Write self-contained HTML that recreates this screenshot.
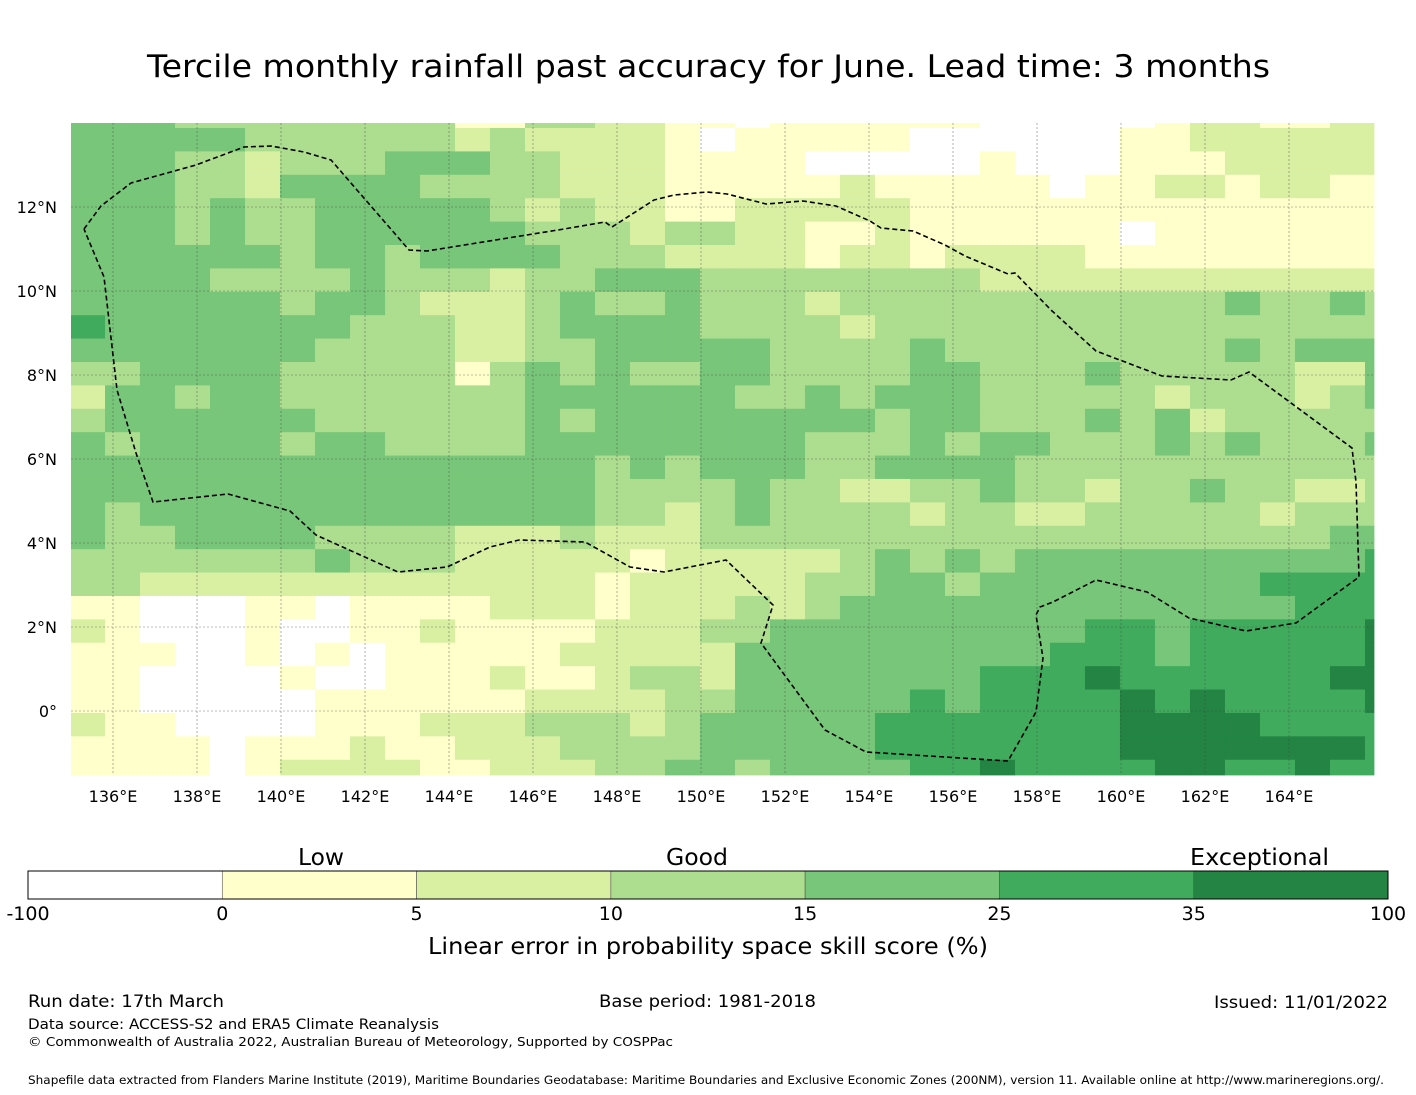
<!DOCTYPE html>
<html><head><meta charset="utf-8">
<style>
body{margin:0;background:#fff;}
svg{display:block;font-family:"DejaVu Sans","Liberation Sans",sans-serif;}
</style></head>
<body>
<svg id="chart" width="1416" height="1095" viewBox="0 0 1416 1095" xmlns="http://www.w3.org/2000/svg">
<rect width="1416" height="1095" fill="#fff"/>
<text x="147" y="77" font-size="31" textLength="1123" lengthAdjust="spacingAndGlyphs" fill="#000">Tercile monthly rainfall past accuracy for June. Lead time: 3 months</text>
<g id="cells"></g>
<g id="grid"></g>
<path id="eez" fill="none" stroke="#000" stroke-width="1.6" stroke-dasharray="5,3"/>
<g id="axes"></g>
<g id="cbar"></g>
<text x="428" y="954" font-size="23" textLength="560" lengthAdjust="spacingAndGlyphs">Linear error in probability space skill score (%)</text>
<text x="298" y="865" font-size="23" textLength="46" lengthAdjust="spacingAndGlyphs">Low</text>
<text x="666" y="865" font-size="23" textLength="62" lengthAdjust="spacingAndGlyphs">Good</text>
<text x="1190" y="865" font-size="23" textLength="139" lengthAdjust="spacingAndGlyphs">Exceptional</text>
<text x="28" y="1007" font-size="17" textLength="196" lengthAdjust="spacingAndGlyphs">Run date: 17th March</text>
<text x="599" y="1007" font-size="17" textLength="217" lengthAdjust="spacingAndGlyphs">Base period: 1981-2018</text>
<text x="1214" y="1008" font-size="17" textLength="174" lengthAdjust="spacingAndGlyphs">Issued: 11/01/2022</text>
<text x="28" y="1029" font-size="14.5" textLength="411" lengthAdjust="spacingAndGlyphs">Data source: ACCESS-S2 and ERA5 Climate Reanalysis</text>
<text x="28" y="1046" font-size="12.5" textLength="645" lengthAdjust="spacingAndGlyphs">© Commonwealth of Australia 2022, Australian Bureau of Meteorology, Supported by COSPPac</text>
<text x="28" y="1084" font-size="11.5" textLength="1356" lengthAdjust="spacingAndGlyphs">Shapefile data extracted from Flanders Marine Institute (2019), Maritime Boundaries Geodatabase: Maritime Boundaries and Exclusive Economic Zones (200NM), version 11. Available online at http://www.marineregions.org/.</text>
</svg>
<script>
const rows = [
"444"+"3333333"+"311332211"+"0111111000"+"001221122",
"4444433333"+"323222210"+"1111100000"+"011222222",
"4443323334"+"443322211"+"1100000100"+"011122222",
"4443324444"+"333322211"+"1112111110"+"112212211",
"4443433444"+"443232211"+"2222211111"+"111111111",
"4443433444"+"444333233"+"2211211111"+"101111111",
"4444443443"+"444433322"+"2212212222"+"111111111",
"4444333343"+"332334443"+"3333333222"+"222222222",
"4444443443"+"222343343"+"3323333333"+"333343343",
"5444444433"+"322344443"+"3332333333"+"333333333",
"4444444333"+"322334444"+"4333343333"+"333343444",
"3344443333"+"313434334"+"4333344333"+"433333224",
"2443443333"+"333444444"+"3343444333"+"332333234",
"3444444333"+"333434444"+"4444344333"+"434233333",
"4344443443"+"333444444"+"4433343443"+"334343334",
"4444444444"+"444443434"+"4433444433"+"333333333",
"4444444444"+"444443333"+"4332233433"+"233433223",
"4344444444"+"444443323"+"4333323322"+"333332333",
"4334444333"+"322232223"+"3333333333"+"333333344",
"3333333433"+"322222122"+"2223434344"+"444444445",
"3322222222"+"222221222"+"2233443444"+"444445555",
"1100011011"+"112221222"+"3234444444"+"444444555",
"2100010011"+"211112223"+"3444444444"+"554555556",
"1110010101"+"111122222"+"4444444445"+"554555556",
"1100001001"+"112112332"+"4444444555"+"655555566",
"1100000111"+"111222233"+"4444454555"+"565655556",
"2110000111"+"222333234"+"4444555555"+"566665555",
"1111011121"+"122233334"+"4444555555"+"566666665",
"1111012222"+"112223344"+"3444455655"+"556655655"
];
const levelColors = ["#ffffff","#ffffcc","#d9f0a3","#addd8e","#78c679","#41ab5d","#238443"];
const levelLabels = ["-100","0","5","10","15","25","35","100"];
const lonTicks = [136,138,140,142,144,146,148,150,152,154,156,158,160,162,164];
const latTicks = [0,2,4,6,8,10,12];
const eezLonLat = [[84,229],[101,206],[131,183],[196,165],[244,147],[271,146],[304,152],[331,160],[409,250],[427,251],[564,229],[605,222],[612,227],[654,200],[674,195],[707,192],[727,194],[766,204],[803,201],[836,206],[870,221],[881,228],[913,231],[945,245],[965,256],[1008,274],[1015,273],[1051,310],[1096,351],[1162,376],[1231,380],[1249,372],[1352,448],[1356,482],[1359,577],[1296,623],[1246,631],[1189,618],[1147,592],[1096,580],[1053,602],[1040,607],[1036,615],[1043,658],[1036,712],[1008,761],[866,752],[825,730],[761,643],[773,605],[726,560],[664,572],[630,567],[585,542],[519,540],[490,547],[447,567],[398,572],[316,535],[290,511],[228,494],[153,502],[136,453],[117,390],[104,277],[84,229]];

const NS="http://www.w3.org/2000/svg";
const X0=71,X1=1374,Y0=123,Y1=775;
const xOf = lon => 113 + 42*(lon-136);
const yOf = lat => 711 - 42*lat;
const lonEdge0=135.81, dLon=0.8333, latEdge0=13.881, dLat=0.5571;
function mk(tag,attrs,parent){const e=document.createElementNS(NS,tag);for(const k in attrs)e.setAttribute(k,attrs[k]);parent.appendChild(e);return e;}

const cells=document.getElementById('cells');
rows.forEach((row,r)=>{
  for(let c=0;c<row.length;c++){
    const v=+row[c];
    let xa = c===0?X0:xOf(lonEdge0+dLon*(c-1));
    let xb = Math.min(X1,xOf(lonEdge0+dLon*c));
    let ya = r===0?Y0:yOf(latEdge0-dLat*(r-1));
    let yb = Math.min(Y1,yOf(latEdge0-dLat*r));
    const e=mk('rect',{x:xa,y:ya,width:xb-xa+0.4,height:yb-ya+0.4,fill:levelColors[v]},cells);
    
    
  }
});

const grid=document.getElementById('grid'), axes=document.getElementById('axes');
lonTicks.forEach(l=>{
  const x=xOf(l);
  const g=mk('line',{x1:x,x2:x,y1:Y0,y2:Y1,stroke:"#444","stroke-width":0.6,"stroke-dasharray":"2,2",opacity:0.7},grid);
  
  
  const t=mk('text',{x:x,y:802,"text-anchor":"middle","font-size":16},axes);
  t.textContent=l+"°E";
  
  
});
latTicks.forEach(l=>{
  const y=yOf(l);
  const g=mk('line',{x1:X0,x2:X1,y1:y,y2:y,stroke:"#444","stroke-width":0.6,"stroke-dasharray":"2,2",opacity:0.7},grid);
  
  
  const t=mk('text',{x:57,y:y+6,"text-anchor":"end","font-size":16},axes);
  t.textContent=l===0?"0°":l+"°N";
  
  
});
document.getElementById('eez').setAttribute('d', eezLonLat.map((p,i)=>(i?'L':'M')+p[0]+','+p[1]).join(' '));

const cb=document.getElementById('cbar');
const cbx=28,cbw=1360,cby=871,cbh=28,n=levelColors.length,sw=cbw/n;
levelColors.forEach((col,i)=>{
  const e=mk('rect',{x:cbx+i*sw,y:cby,width:sw,height:cbh,fill:col,stroke:"#555","stroke-width":0.6},cb);
  
  
});
mk('rect',{x:cbx,y:cby,width:cbw,height:cbh,fill:"none",stroke:"#000","stroke-width":1},cb);
levelLabels.forEach((lb,i)=>{
  const t=mk('text',{x:cbx+i*sw,y:920,"text-anchor":"middle","font-size":19},cb);
  t.textContent=lb;
  
  
});
</script>
</body></html>
